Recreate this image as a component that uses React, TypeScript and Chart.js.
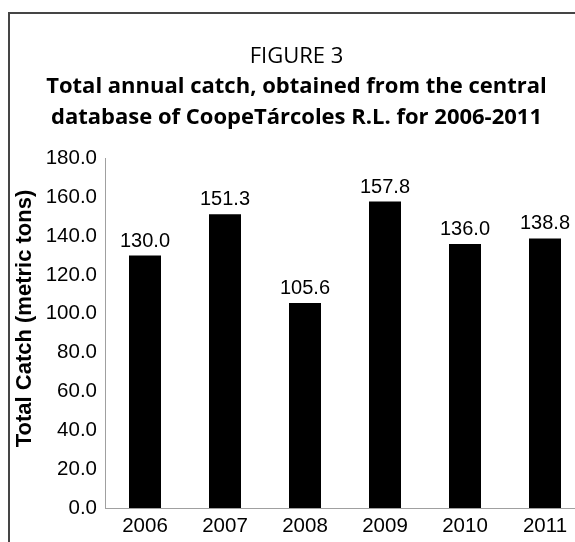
import React, { useEffect, useRef } from "react";
import { Chart, registerables } from "chart.js";

Chart.register(...registerables);

const years = ["2006", "2007", "2008", "2009", "2010", "2011"];
const catchValues = [130.0, 151.3, 105.6, 157.8, 136.0, 138.8];
const figureLabel = "FIGURE 3";
const titleLines = [
  "Total annual catch, obtained from the central",
  "database of CoopeTárcoles R.L. for 2006-2011",
];
const yAxisTitle = "Total Catch (metric tons)";
const yMin = 0;
const yMax = 180;
const yStep = 20;

const ARIAL = "'Liberation Sans', Arial, sans-serif";
const TITLE_FONT = "'Open Sans', 'Noto Sans', sans-serif";

const CW = 600;
const CH = 534;

const valueLabelPlugin = {
  id: "valueLabels",
  afterDatasetsDraw(chart: any) {
    const ctx = chart.ctx;
    const meta = chart.getDatasetMeta(0);
    ctx.save();
    ctx.font = `20px ${ARIAL}`;
    ctx.fillStyle = "#000";
    ctx.textAlign = "center";
    ctx.textBaseline = "alphabetic";
    meta.data.forEach((bar: any, i: number) => {
      const v = chart.data.datasets[0].data[i] as number;
      ctx.fillText(v.toFixed(1), bar.x, bar.y - 9);
    });
    ctx.restore();
  },
};

const yTitlePlugin = {
  id: "yTitle",
  afterDraw(chart: any) {
    const ctx = chart.ctx;
    ctx.save();
    ctx.translate(17, 310.5);
    ctx.rotate(-Math.PI / 2);
    ctx.font = `bold 22px ${ARIAL}`;
    ctx.fillStyle = "#000";
    ctx.textAlign = "center";
    ctx.textBaseline = "middle";
    ctx.fillText(yAxisTitle, 0, 0);
    ctx.restore();
  },
};

export default function App() {
  const ref = useRef<HTMLCanvasElement>(null);
  useEffect(() => {
    document.documentElement.style.overflow = "hidden";
    const chart = new Chart(ref.current as HTMLCanvasElement, {
      type: "bar",
      data: {
        labels: years,
        datasets: [
          {
            data: catchValues,
            backgroundColor: "#000",
            borderWidth: 0,
            categoryPercentage: 1,
            barPercentage: 0.4,
          },
        ],
      },
      options: {
        responsive: false,
        animation: false,
        devicePixelRatio: 1,
        layout: { padding: { left: 0, right: CW - 577, top: 0, bottom: 0 } },
        plugins: {
          legend: { display: false },
          tooltip: { enabled: false },
          title: {
            display: true,
            text: figureLabel,
            color: "#000",
            font: { family: TITLE_FONT, size: 22, weight: "normal", lineHeight: 1.2 },
            padding: { top: 36, bottom: 1 },
          },
          subtitle: {
            display: true,
            text: titleLines,
            color: "#000",
            font: { family: TITLE_FONT, size: 22, weight: "bold", lineHeight: 1.41 },
            padding: { top: 0, bottom: 25 },
          },
        },
        scales: {
          x: {
            grid: { display: false, drawTicks: false },
            border: { display: true, color: "#a0a0a0", width: 1 },
            ticks: {
              color: "#000",
              font: { family: ARIAL, size: 20.5 },
              padding: 6,
              maxRotation: 0,
              autoSkip: false,
            },
            afterFit(scale: any) {
              scale.height = 34;
            },
          },
          y: {
            min: yMin,
            max: yMax,
            grid: { display: false, drawTicks: false },
            border: { display: true, color: "#a0a0a0", width: 1 },
            ticks: {
              stepSize: yStep,
              color: "#000",
              font: { family: ARIAL, size: 20.5 },
              padding: 8,
              callback: (v: any) => Number(v).toFixed(1),
            },
            afterFit(scale: any) {
              scale.width = 97;
            },
          },
        },
      },
      plugins: [valueLabelPlugin, yTitlePlugin],
    });
    return () => chart.destroy();
  }, []);

  return (
    <div
      style={{
        position: "fixed",
        left: 8,
        top: 8,
        width: 567,
        height: 534,
        overflow: "hidden",
        background: "#fff",
      }}
    >
      <canvas
        ref={ref}
        width={CW}
        height={CH}
        style={{ position: "absolute", left: 0, top: 0, width: CW, height: CH }}
      />
      <div
        style={{
          position: "absolute",
          left: 0,
          top: 4,
          width: 600,
          height: 600,
          borderTop: "2px solid #454545",
          borderLeft: "2px solid #454545",
          pointerEvents: "none",
        }}
      />
    </div>
  );
}
